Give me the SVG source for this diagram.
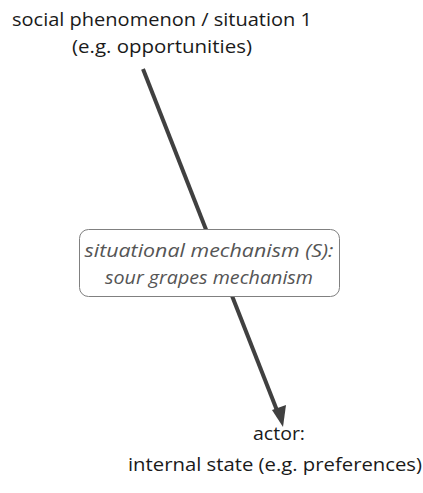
<svg xmlns="http://www.w3.org/2000/svg" width="423" height="493" viewBox="0 0 423 493">
<defs>
<style>
.lbl{font-family:"Open Sans","Noto Sans","Liberation Sans",sans-serif;font-size:19px;fill:#1a1a1a;text-anchor:middle}
.mech{font-family:"Open Sans","Noto Sans","Liberation Sans",sans-serif;font-size:19px;font-style:italic;fill:#555;text-anchor:middle}
.conn{stroke:#404040;stroke-width:4;fill:none}
</style>
</defs>
<g id="connectors">
<line class="conn" x1="143" y1="69" x2="278" y2="413"/>
<polygon points="283,427 272,410 286,405" fill="#404040"/>
</g>
<g id="node-situation">
<text class="lbl" x="162" y="26" textLength="300" lengthAdjust="spacingAndGlyphs">social phenomenon / situation 1</text>
<text class="lbl" x="162" y="53" textLength="180" lengthAdjust="spacingAndGlyphs">(e.g. opportunities)</text>
</g>
<g id="node-mechanism">
<rect x="79.5" y="229.5" width="260" height="67" rx="9" fill="#fff" stroke="#808080" stroke-width="1"/>
<text class="mech" x="209" y="257" textLength="249" lengthAdjust="spacingAndGlyphs">situational mechanism (S):</text>
<text class="mech" x="209" y="284" textLength="208" lengthAdjust="spacingAndGlyphs">sour grapes mechanism</text>
</g>
<g id="node-actor">
<text class="lbl" x="279" y="440" textLength="52" lengthAdjust="spacingAndGlyphs">actor:</text>
<text class="lbl" x="275" y="471" textLength="294" lengthAdjust="spacingAndGlyphs">internal state (e.g. preferences)</text>
</g>
</svg>
